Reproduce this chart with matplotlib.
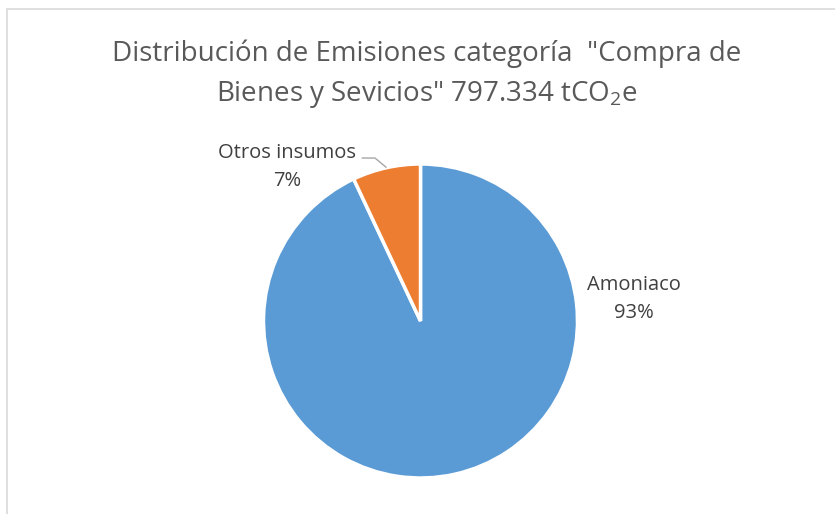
import numpy as np
import matplotlib.pyplot as plt
from matplotlib.patches import Rectangle

plt.rcParams['font.family'] = ['Open Sans', 'DejaVu Sans']
plt.rcParams['mathtext.fontset'] = 'custom'
plt.rcParams['mathtext.rm'] = 'Open Sans'
plt.rcParams['mathtext.it'] = 'Open Sans'

# data
categories = ['Amoniaco', 'Otros insumos']
shares = [93, 7]
colors = ['#5B9BD5', '#ED7D31']
title = 'Distribución de Emisiones categoría  "Compra de\nBienes y Sevicios" 797.334 tCO$_2$e'

W, H = 835, 514
fig = plt.figure(figsize=(W / 100, H / 100), dpi=100)

# chart border (light gray frame, right/bottom run off the image)
fig.patches.append(Rectangle((7 / W, -0.1), 1.2, 1 - 9 / H + 0.1, transform=fig.transFigure,
                             fill=False, edgecolor='#d9d9d9', lw=1.2))

cx, cy, r = 420.5, 321, 157
ax = fig.add_axes([(cx - r) / W, (H - cy - r) / H, 2 * r / W, 2 * r / H])
ax.pie(shares, colors=colors, startangle=90, counterclock=False,
       wedgeprops=dict(edgecolor='white', linewidth=2.5))
ax.set_xlim(-1, 1)
ax.set_ylim(-1, 1)
ax.set_aspect('equal')
ax.axis('off')

ax.text(1.36, 0.14, f'{categories[0]}\n{shares[0]}%', ha='center', va='center',
        fontsize=14.5, color='#404040', linespacing=1.5, clip_on=False)
ax.text(-0.85, 0.98, f'{categories[1]}\n{shares[1]}%', ha='center', va='center',
        fontsize=14.5, color='#404040', linespacing=1.5, clip_on=False)
ax.plot([-0.37, -0.29, -0.22], [1.038, 1.038, 0.98], color='#a6a6a6', lw=1, clip_on=False)

fig.text(427 / W, 1 - 75 / H, title, ha='center', va='center', fontsize=20,
         color='#595959', linespacing=1.5)

fig.savefig('out.png', dpi=100)
